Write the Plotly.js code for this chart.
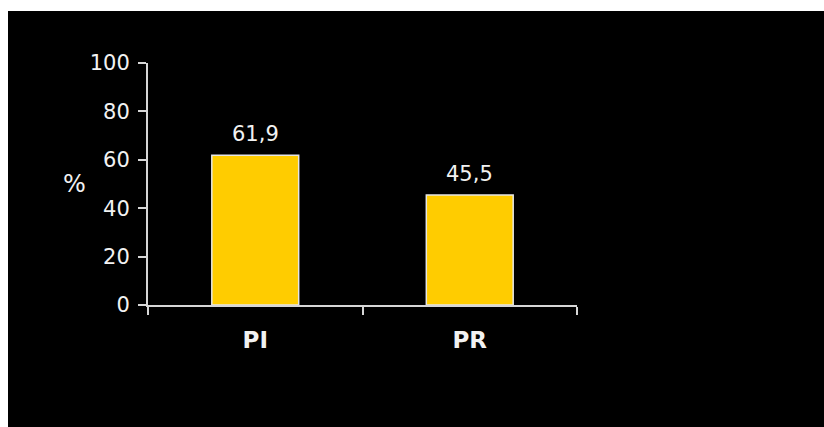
<!DOCTYPE html>
<html>
<head>
<meta charset="utf-8">
<script src="https://cdn.plot.ly/plotly-3.0.1.min.js"></script>
<style>
  html, body { margin: 0; padding: 0; background: #ffffff; width: 824px; height: 427px; overflow: hidden; }
  #chart { position: absolute; left: 8px; top: 11px; width: 816px; height: 416px; }
</style>
</head>
<body>
<div id="chart"></div>
<script>
const categories = ["PI", "PR"];
const values = [61.9, 45.5];
const yTickValues = [0, 20, 40, 60, 80, 100];
const yAxisLabel = "%";

const fontFamily = "DejaVu Sans, Verdana, sans-serif";
const textColor = "#f2f2f2";
const axisColor = "#d6d6d6";

const trace = {
  type: "bar",
  x: categories,
  y: values,
  marker: { color: "#FFCC00", line: { color: "#e6e6e6", width: 1.5 } },
  hoverinfo: "skip"
};

const labelAnnotations = categories.map((c, i) => ({
  x: c, y: values[i], xref: "x", yref: "y",
  text: values[i].toFixed(1).replace(".", ","),
  showarrow: false, xanchor: "center", yanchor: "middle", yshift: 21,
  font: { family: fontFamily, size: 21, color: textColor }
}));

const layout = {
  width: 816, height: 416,
  paper_bgcolor: "#000000", plot_bgcolor: "#000000",
  margin: { l: 140, r: 247, t: 52, b: 122 },
  bargap: 0.595,
  showlegend: false,
  xaxis: {
    type: "category",
    range: [-0.5, 1.5],
    showline: true, linecolor: axisColor, linewidth: 2,
    ticks: "outside", tickson: "boundaries", ticklen: 8, tickwidth: 2, tickcolor: axisColor,
    showgrid: false, zeroline: false,
    tickfont: { family: fontFamily, size: 23, color: textColor, weight: "bold" },
    ticklabelstandoff: 13
  },
  yaxis: {
    range: [0, 100],
    tickvals: yTickValues,
    showline: true, linecolor: axisColor, linewidth: 2,
    ticks: "outside", ticklen: 8, tickwidth: 2, tickcolor: axisColor,
    showgrid: false, zeroline: false,
    tickfont: { family: fontFamily, size: 21, color: textColor },
    ticklabelstandoff: 4
  },
  annotations: labelAnnotations.concat([{
    xref: "paper", yref: "y", x: 0, y: 50, xshift: -74,
    text: yAxisLabel, showarrow: false, xanchor: "center", yanchor: "middle",
    font: { family: fontFamily, size: 24, color: textColor }
  }])
};

Plotly.newPlot("chart", [trace], layout, { displayModeBar: false, staticPlot: true });
</script>
</body>
</html>
